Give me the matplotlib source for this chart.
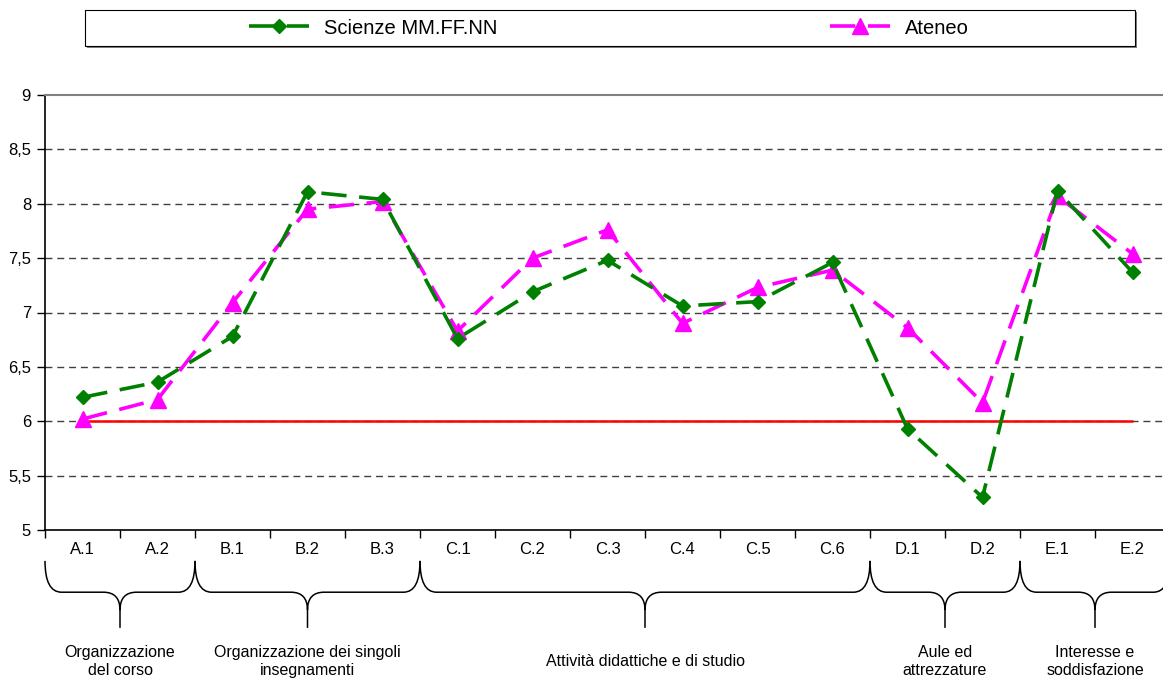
import matplotlib
matplotlib.use("Agg")
import matplotlib.pyplot as plt
import matplotlib.transforms as mtransforms
from matplotlib.patches import PathPatch, Rectangle
from matplotlib.path import Path
from matplotlib.lines import Line2D

plt.rcParams["font.family"] = ["Liberation Sans", "DejaVu Sans"]

# --- data ---
categories = ["A.1", "A.2", "B.1", "B.2", "B.3", "C.1", "C.2", "C.3",
              "C.4", "C.5", "C.6", "D.1", "D.2", "E.1", "E.2"]
scienze = [6.22, 6.36, 6.78, 8.11, 8.04, 6.76, 7.19, 7.48,
           7.06, 7.10, 7.46, 5.93, 5.30, 8.12, 7.37]
ateneo = [6.02, 6.20, 7.09, 7.95, 8.02, 6.83, 7.50, 7.76,
          6.90, 7.23, 7.39, 6.86, 6.17, 8.07, 7.54]
threshold = 6
y_ticks = [5, 5.5, 6, 6.5, 7, 7.5, 8, 8.5, 9]
y_labels = ["5", "5,5", "6", "6,5", "7", "7,5", "8", "8,5", "9"]

# groups: (label, first index, last index)
groups = [("Organizzazione\ndel corso", 0, 1),
          ("Organizzazione dei singoli\ninsegnamenti", 2, 4),
          ("Attività didattiche e di studio", 5, 10),
          ("Aule ed\nattrezzature", 11, 12),
          ("Interesse e\nsoddisfazione", 13, 14)]

GREEN = "#008000"
MAGENTA = "#ff00ff"
DASH = (0, (7, 3.5))

fig = plt.figure(figsize=(11.63, 6.79), dpi=100)
ax = fig.add_axes([45 / 1163, 149 / 679, 1125 / 1163, 435 / 679])

x = list(range(len(categories)))
n = len(categories)

# grid (dashed), top border grey
for yv in y_ticks[1:-1]:
    ax.axhline(yv, color="#404040", lw=1.0, ls=(0, (5, 3.5)), zorder=1)

ax.hlines(threshold, 0, n - 1, color="red", lw=1.8, zorder=2)

ax.plot(x, scienze, color=GREEN, lw=2.6, ls=DASH, marker="D",
        ms=7.5, zorder=4, label="Scienze MM.FF.NN")
ax.plot(x, ateneo, color=MAGENTA, lw=2.6, ls=DASH, marker="^",
        ms=11, zorder=3, label="Ateneo")

ax.set_xlim(-0.5, n - 0.5)
ax.set_ylim(5, 9)
ax.set_yticks(y_ticks)
ax.set_yticklabels(y_labels)
ax.tick_params(axis="y", direction="out", length=6, width=1, labelsize=12, pad=4)

# boundary ticks (major) + labels at category centres (minor)
ax.set_xticks([i - 0.5 for i in range(n + 1)])
ax.set_xticklabels([])
ax.set_xticks(x, minor=True)
ax.set_xticklabels(categories, minor=True)
ax.tick_params(axis="x", which="major", direction="out", length=6, width=1)
ax.tick_params(axis="x", which="minor", length=0, pad=9, labelsize=12)

ax.spines["right"].set_visible(False)
ax.spines["top"].set_color("#808080")
ax.spines["top"].set_linewidth(1.5)
ax.spines["left"].set_linewidth(1.2)
ax.spines["bottom"].set_linewidth(1.2)

# --- curly braces under the category labels ---
trans = mtransforms.blended_transform_factory(ax.transData, ax.transAxes)
y_top, y_mid, y_knee, y_tip = -0.071, -0.143, -0.184, -0.225
rx = 0.22
for label, i0, i1 in groups:
    x0, x1 = i0 - 0.5, i1 + 0.5
    xc = (x0 + x1) / 2
    verts = [(x0, y_top), (x0, y_mid), (x0 + rx, y_mid),
             (xc - rx, y_mid),
             (xc, y_mid), (xc, y_knee),
             (xc, y_tip),
             (xc, y_knee),
             (xc, y_mid), (xc + rx, y_mid),
             (x1 - rx, y_mid),
             (x1, y_mid), (x1, y_top)]
    codes = [Path.MOVETO, Path.CURVE3, Path.CURVE3,
             Path.LINETO,
             Path.CURVE3, Path.CURVE3,
             Path.LINETO,
             Path.MOVETO,
             Path.CURVE3, Path.CURVE3,
             Path.LINETO,
             Path.CURVE3, Path.CURVE3]
    ax.add_patch(PathPatch(Path(verts, codes), transform=trans, fill=False,
                           lw=1.1, color="black", clip_on=False))
    ax.text(xc, -0.302, label, transform=trans, ha="center", va="center",
            fontsize=11.5, linespacing=1.25)

# --- legend box at the top ---
fig.patches.append(Rectangle((87 / 1163, 1 - 48 / 679), 1050 / 1163, 36 / 679,
                             transform=fig.transFigure, facecolor="#808080",
                             edgecolor="none", zorder=0))
fig.patches.append(Rectangle((85 / 1163, 1 - 46 / 679), 1050 / 1163, 36 / 679,
                             transform=fig.transFigure, facecolor="white",
                             edgecolor="black", lw=0.8, zorder=1))
handles = [Line2D([0], [0], color=GREEN, lw=2.6, ls=DASH, marker="D", ms=7.5),
           Line2D([0], [0], color=MAGENTA, lw=2.6, ls=DASH, marker="^", ms=11)]
fig.legend(handles, ["Scienze MM.FF.NN", "Ateneo"], loc="center",
           bbox_to_anchor=(609 / 1163, 1 - 28 / 679), ncol=2, frameon=False,
           fontsize=14.5, handlelength=3.0, handletextpad=0.75,
           columnspacing=16.5)

fig.savefig("out.png", dpi=100)
